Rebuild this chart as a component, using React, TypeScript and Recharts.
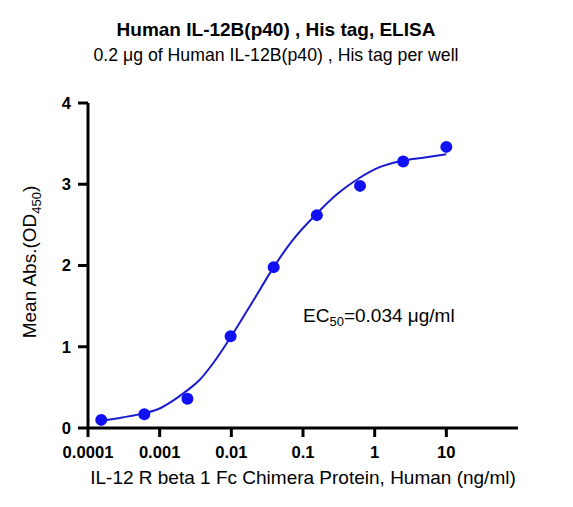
import { ComposedChart, Line, Scatter, XAxis, YAxis } from "recharts";

// measured points (4-fold dilution series)
const concentrations = [0.000153, 0.00061, 0.00244, 0.00977, 0.039, 0.156, 0.625, 2.5, 10];
const absorbance = [0.1, 0.17, 0.36, 1.13, 1.98, 2.62, 2.98, 3.28, 3.46];

// fitted curve
const curveX = [0.000153, 0.0003, 0.0006, 0.001, 0.0015, 0.0024, 0.0036, 0.0056, 0.01, 0.02, 0.039, 0.07, 0.156, 0.3, 0.62, 1.17, 2.44, 5, 10];
const curveY = [0.09, 0.13, 0.18, 0.24, 0.33, 0.46, 0.59, 0.8, 1.13, 1.56, 1.98, 2.3, 2.64, 2.88, 3.08, 3.21, 3.29, 3.33, 3.37];

const xTicks = [0.0001, 0.001, 0.01, 0.1, 1, 10];
const xTickLabels = ["0.0001", "0.001", "0.01", "0.1", "1", "10"];
const yTicks = [0, 1, 2, 3, 4];

const points = concentrations.map((x, i) => ({ x, y: absorbance[i] }));
const curve = curveX.map((x, i) => ({ x, y: curveY[i] }));

const FONT = "Arial, 'Liberation Sans', sans-serif";
const DOT = "#1010f2";
const LINE = "#1a1ad0";

export default function App() {
  return (
    <div style={{ position: "absolute", left: 0, top: 0, width: 573, height: 507, background: "#fff", fontFamily: FONT }}>
      <ComposedChart width={573} height={507} margin={{ top: 103, right: 55, bottom: 0, left: 0 }}>
        <XAxis
          dataKey="x"
          type="number"
          scale="log"
          domain={[0.0001, 100]}
          ticks={xTicks}
          tickFormatter={(v: number) => xTickLabels[xTicks.indexOf(v)] ?? String(v)}
          height={79}
          axisLine={{ stroke: "#000", strokeWidth: 3 }}
          tickLine={{ stroke: "#000", strokeWidth: 3 }}
          tickSize={9}
          tickMargin={9}
          tick={{ fill: "#000", fontSize: 16.6, fontWeight: "bold", fontFamily: FONT }}
          label={{
            content: () => (
              <text x={303} y={484} textAnchor="middle" fontSize={19} fill="#000" fontFamily={FONT}>
                IL-12 R beta 1 Fc Chimera Protein, Human (ng/ml)
              </text>
            ),
          }}
        />
        <YAxis
          type="number"
          domain={[0, 4]}
          ticks={yTicks}
          width={88}
          axisLine={{ stroke: "#000", strokeWidth: 3 }}
          tickLine={{ stroke: "#000", strokeWidth: 3 }}
          tickSize={10}
          tickMargin={7}
          tick={{ fill: "#000", fontSize: 16.6, fontWeight: "bold", fontFamily: FONT }}
          label={{
            content: () => (
              <text
                x={36}
                y={262}
                transform="rotate(-90, 36, 262)"
                textAnchor="middle"
                fontSize={19}
                fill="#000"
                fontFamily={FONT}
              >
                Mean Abs.(OD
                <tspan fontSize={13} dy={5}>450</tspan>
                <tspan dy={-5}>)</tspan>
              </text>
            ),
          }}
        />
        <Line
          data={curve}
          dataKey="y"
          type="monotone"
          stroke={LINE}
          strokeWidth={2}
          dot={false}
          activeDot={false}
          isAnimationActive={false}
        />
        <Scatter
          data={points}
          dataKey="y"
          fill={DOT}
          shape={(p: any) => <circle cx={p.cx} cy={p.cy} r={6} fill={DOT} />}
          isAnimationActive={false}
        />
      </ComposedChart>
      <svg width={573} height={507} style={{ position: "absolute", left: 0, top: 0, pointerEvents: "none" }}>
        <text x={276} y={36} textAnchor="middle" fontSize={19} fontWeight="bold" fill="#000" fontFamily={FONT}>
          Human IL-12B(p40) , His tag, ELISA
        </text>
        <text x={276} y={60.5} textAnchor="middle" fontSize={17.7} fill="#000" fontFamily={FONT}>
          0.2 μg of Human IL-12B(p40) , His tag per well
        </text>
        <text x={303} y={322} fontSize={19} fill="#000" fontFamily={FONT}>
          EC<tspan fontSize={13} dy={4}>50</tspan>
          <tspan dy={-4}>=0.034 μg/ml</tspan>
        </text>
      </svg>
    </div>
  );
}
